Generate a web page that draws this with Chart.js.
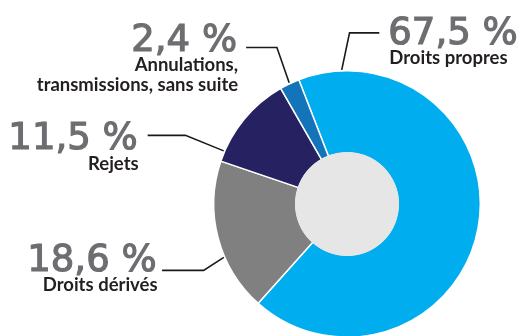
<!DOCTYPE html>
<html>
<head>
<meta charset="utf-8">
<script src="https://cdn.jsdelivr.net/npm/chart.js@4.4.1/dist/chart.umd.min.js"></script>
<style>
  html, body { margin: 0; padding: 0; background: #ffffff; overflow: hidden; }
  #wrap { position: relative; width: 525px; height: 338px; }
</style>
</head>
<body>
<div id="wrap"><canvas id="c"></canvas></div>
<script>
// Share of decisions by outcome (percent)
const categories = ['Droits propres', 'Droits dérivés', 'Rejets', 'Annulations, transmissions, sans suite'];
const shares = [67.5, 18.6, 11.5, 2.4];
// Caption lines under each percentage
const captionLines = [
  ['Droits propres'],
  ['Droits dérivés'],
  ['Rejets'],
  ['Annulations,', 'transmissions, sans suite']
];
const sliceColors = ['#00aeef', '#808080', '#262262', '#1474ba'];

// Callout geometry, expressed relative to the doughnut centre in units of its outer radius.
// at: position along the slice where the leader starts (0..1)
// elbow: bend point of the leader; end: x of the leader's end; text: anchor of the percentage
const callouts = [
  { at: 0.078, elbow: [0.019, -1.284], end: 0.2425, text: [0.310, -1.2015], align: 'left' },
  { at: 0.37,  elbow: [-1.076, 0.498], end: -1.388, text: [-1.429, 0.500],  align: 'right' },
  { at: 0.11,  elbow: [-1.2127, -0.515], end: -1.496, text: [-1.571, -0.410], align: 'right' },
  { at: 0.5,   elbow: [-0.526, -1.174], end: -0.757, text: [-0.825, -1.149], align: 'right' }
];

const formatShare = v => v.toFixed(1).replace('.', ',') + ' %';

const calloutPlugin = {
  id: 'callouts',
  afterDatasetsDraw(chart) {
    const ctx = chart.ctx;
    const arcs = chart.getDatasetMeta(0).data;
    const cx = arcs[0].x, cy = arcs[0].y;
    const R = arcs[0].outerRadius, r = arcs[0].innerRadius;

    ctx.save();
    // light grey disc filling the centre
    ctx.beginPath();
    ctx.arc(cx, cy, r + 1, 0, Math.PI * 2);
    ctx.fillStyle = '#e6e6e6';
    ctx.fill();

    arcs.forEach((arc, i) => {
      const c = callouts[i];
      const a = arc.startAngle + c.at * (arc.endAngle - arc.startAngle);
      const sx = cx + Math.cos(a) * (R + 1);
      const sy = cy + Math.sin(a) * (R + 1);
      const ex = cx + c.elbow[0] * R, ey = cy + c.elbow[1] * R;
      const fx = cx + c.end * R;

      ctx.beginPath();
      ctx.moveTo(sx, sy);
      ctx.lineTo(ex, ey);
      ctx.lineTo(fx, ey);
      ctx.strokeStyle = '#1a1a1a';
      ctx.lineWidth = 1.6;
      ctx.lineJoin = 'miter';
      ctx.stroke();

      const tx = cx + c.text[0] * R, ty = cy + c.text[1] * R;
      ctx.textAlign = c.align;
      ctx.textBaseline = 'alphabetic';
      ctx.font = '37px "DejaVu Sans"';
      ctx.fillStyle = '#6d6e71';
      ctx.strokeStyle = '#6d6e71';
      ctx.lineWidth = 1.2;
      const label = formatShare(chart.data.datasets[0].data[i]);
      ctx.fillText(label, tx, ty);
      ctx.strokeText(label, tx, ty);

      ctx.font = 'bold 18.5px Lato';
      ctx.fillStyle = '#231f20';
      captionLines[i].forEach((line, k) => {
        ctx.fillText(line, tx + 1, ty + 20.5 + k * 19.5);
      });
    });
    ctx.restore();
  }
};

new Chart(document.getElementById('c'), {
  type: 'doughnut',
  data: {
    labels: categories,
    datasets: [{
      data: shares,
      backgroundColor: sliceColors,
      borderColor: '#ffffff',
      borderWidth: 1.5,
      hoverOffset: 0
    }]
  },
  options: {
    responsive: true,
    maintainAspectRatio: false,
    animation: false,
    events: [],
    rotation: -21.2,
    cutout: '38.3%',
    layout: { padding: { top: 70, bottom: 0, left: 213, right: 44 } },
    plugins: {
      legend: { display: false },
      tooltip: { enabled: false }
    }
  },
  plugins: [calloutPlugin]
});
</script>
</body>
</html>
